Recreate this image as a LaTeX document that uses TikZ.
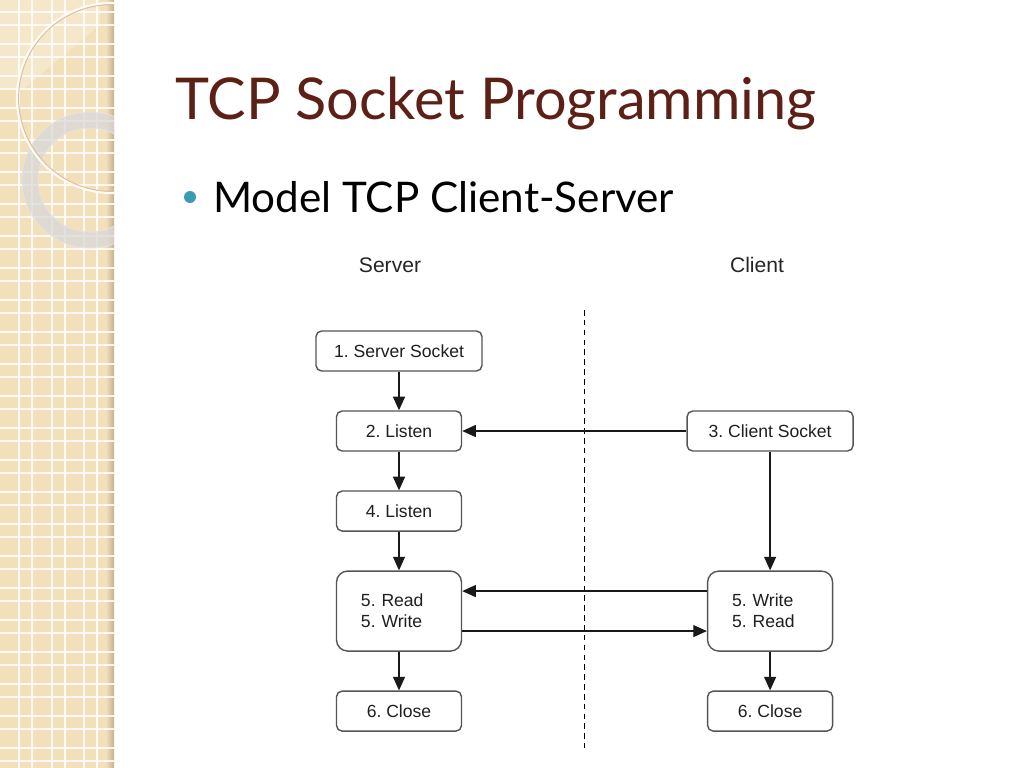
\documentclass[tikz,border=0pt]{standalone}
\usepackage{fontspec}
\setmainfont{Liberation Sans}
\newfontfamily\slidefont{Lato}
\usetikzlibrary{arrows.meta}

\begin{document}
\frenchspacing
\begin{tikzpicture}[x=0.025cm, y=-0.025cm, node distance=2cm]
	\definecolor{stripbeige}{RGB}{243,223,186}
	\definecolor{stripedge}{RGB}{196,176,140}
	\definecolor{titlebrown}{RGB}{92,32,22}
	\definecolor{bulletteal}{RGB}{58,155,181}
	\definecolor{boxgrey}{RGB}{85,85,85}
	\tikzstyle{stage} = [rectangle, rounded corners=4pt, minimum width=3.125cm, minimum height=1cm, text centered, draw=boxgrey, line width=1pt, fill=white, text=black!88, font=\fontsize{12.5}{15}\selectfont]
	\tikzstyle{widestage} = [stage, minimum width=4.15cm]
	\tikzstyle{talkstage} = [stage, minimum height=2cm, text width=1.9cm, inner sep=0pt, align=left, rounded corners=8pt]
	\tikzstyle{arrow} = [-{Triangle[length=3.4mm, width=3mm]}, line width=0.9pt, draw=black!90]

	\useasboundingbox (0,0) rectangle (1024,768);
	\fill[white] (0,0) rectangle (1024,768);

	% left strip
	\fill[stripbeige] (0,0) rectangle (106,768);
	\shade[left color=stripbeige, right color=stripedge] (106,0) rectangle (114,768);
	\foreach \gx in {19,32,52,65,84,97}
		\draw[white, line width=1.1pt, opacity=0.85] (\gx,0) -- (\gx,768);
	\foreach \gy in {0,32,...,768} {
		\draw[white, line width=1.1pt, opacity=0.85] (0,\gy+12) -- (114,\gy+12);
		\draw[white, line width=1.1pt, opacity=0.85] (0,\gy+25) -- (114,\gy+25);
	}
	\begin{scope}
		\clip (0,0) rectangle (114,768);
		\fill[white, opacity=0.25] (0,0) -- (100,0) -- (100,25) -- (22,90) -- (0,90) -- cycle;
		\fill[gray!30, opacity=0.75, even odd rule] (90,180) circle (68) (90,180) circle (52);
		\draw[white!80!gray, line width=0.5pt] (90,180) circle (68);
		\draw[white!80!gray, line width=0.5pt] (90,180) circle (52);
		\draw[white!92!stripbeige, line width=1.6pt] (112,98) circle (95);
		\draw[brown!50, line width=0.7pt] (112,98) circle (93.4);
	\end{scope}

	% title and bullet
	\node (title) [anchor=base west, inner sep=0pt, text=titlebrown, font=\slidefont\fontsize{41}{48}\selectfont] at (175,120) {TCP Socket Programming};
	\node (dot) [circle, fill=bulletteal, inner sep=0pt, minimum size=0.3cm] at (190,197) {};
	\node (bullet) [anchor=base west, inner sep=0pt, text=black, font=\slidefont\fontsize{30}{36}\selectfont] at (213,212) {Model TCP Client-Server};

	% diagram
	\node (server_label) [text=black!85, font=\fontsize{15}{18}\selectfont] at (390,265) {Server};
	\node (client_label) [text=black!85, font=\fontsize{15}{18}\selectfont] at (757,265) {Client};

	\node (server_socket) [widestage] at (399,351) {1. Server Socket};
	\node (listen) [stage, below of=server_socket] {2. Listen};
	\node (listen_again) [stage, below of=listen] {4. Listen};
	\node (server_rw) [talkstage, below of=listen_again, yshift=-0.5cm] {5. Read\\5. Write};
	\node (server_close) [stage, below of=server_rw, yshift=-0.5cm] {6. Close};
	\node (client_socket) [widestage, right of=listen, xshift=7.275cm] {3. Client Socket};
	\node (client_rw) [talkstage, right of=server_rw, xshift=7.275cm] {5. Write\\5. Read};
	\node (client_close) [stage, below of=client_rw, yshift=-0.5cm] {6. Close};

	\coordinate (divider_top) at (584,310);
	\coordinate (divider_bottom) at (584,748);
	\draw [dash pattern=on 4pt off 3pt, line width=0.7pt] (divider_top) -- (divider_bottom);

	\draw [arrow] (server_socket) -- (listen);
	\draw [arrow] (listen) -- (listen_again);
	\draw [arrow] (listen_again) -- (server_rw);
	\draw [arrow] (server_rw) -- (server_close);
	\draw [arrow] (client_socket) -- (listen);
	\draw [arrow] (client_socket) -- (client_rw);
	\draw [arrow] (client_rw) -- (client_close);
	\draw [arrow] ([yshift=0.5cm]client_rw.west) -- ([yshift=0.5cm]server_rw.east);
	\draw [arrow] ([yshift=-0.5cm]server_rw.east) -- ([yshift=-0.5cm]client_rw.west);
\end{tikzpicture}
\end{document}
